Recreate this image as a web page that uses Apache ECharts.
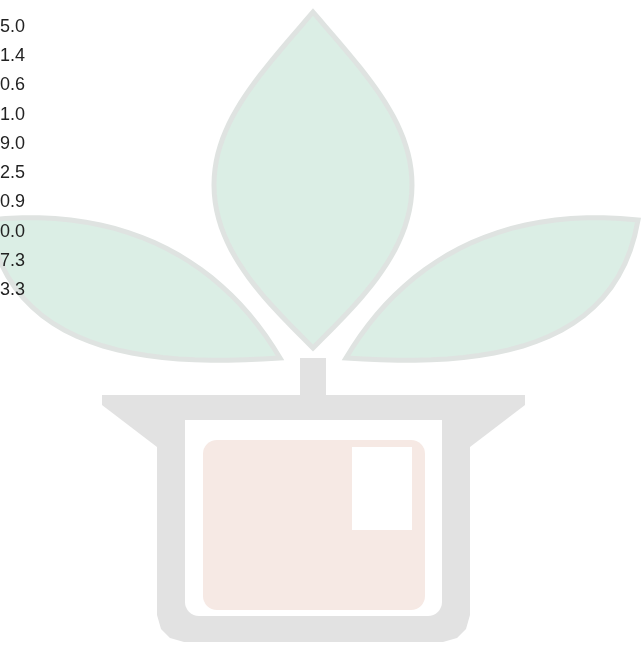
<!DOCTYPE html>
<html>
<head>
<meta charset="utf-8">
<script src="https://cdn.jsdelivr.net/npm/echarts@6/dist/echarts.min.js"></script>
<style>
html,body{margin:0;padding:0;background:#fff;}
#main{width:641px;height:645px;}
</style>
</head>
<body>
<div id="main"></div>
<script>
var categories = ['5.0', '1.4', '0.6', '1.0', '9.0', '2.5', '0.9', '0.0', '7.3', '3.3'];

var chart = echarts.init(document.getElementById('main'), null, {renderer: 'canvas'});

var leafFill = '#dbeee5', leafStroke = '#dfe3e1', potGrey = '#e2e2e2', peach = '#f6e9e4';

// sample a chain of cubic bezier segments [[p0,c1,c2,p3], ...] into polygon points
function bez(segs) {
  var pts = [];
  segs.forEach(function (s) {
    for (var i = 0; i < 24; i++) {
      var t = i / 24, u = 1 - t;
      var x = u*u*u*s[0][0] + 3*u*u*t*s[1][0] + 3*u*t*t*s[2][0] + t*t*t*s[3][0];
      var y = u*u*u*s[0][1] + 3*u*u*t*s[1][1] + 3*u*t*t*s[2][1] + t*t*t*s[3][1];
      pts.push([x, y]);
    }
  });
  return pts;
}

var centerLeaf = bez([
  [[313,12],[362,70],[412,120],[412,185]],
  [[412,185],[412,255],[352,308],[313,348]],
  [[313,348],[274,308],[214,255],[214,185]],
  [[214,185],[214,120],[264,70],[313,12]]
]);
var leftLeaf = bez([
  [[-12,220],[130,205],[225,265],[280,358]],
  [[280,358],[140,368],[10,350],[-12,220]]
]);
var rightLeaf = bez([
  [[638,220],[496,205],[401,265],[346,358]],
  [[346,358],[486,368],[616,350],[638,220]]
]);
var potOuter = [[102,395],[525,395],[525,405],[470,447],[470,615],[466,629],[457,638],[443,642],[184,642],[170,638],[161,629],[157,615],[157,447],[102,405]];

var option = {
  backgroundColor: '#ffffff',
  animation: false,
  grid: {left: 25, top: 12, width: 400, height: 293, containLabel: false, outerBoundsMode: 'none'},
  xAxis: {type: 'value', show: false, min: 0, max: 10},
  yAxis: {
    type: 'category',
    data: categories,
    inverse: true,
    axisLine: {show: false},
    axisTick: {show: false},
    splitLine: {show: false},
    axisLabel: {show: true, color: '#222', fontSize: 18, fontFamily: 'Liberation Sans, Arial, sans-serif', margin: 0, align: 'right'}
  },
  series: [],
  graphic: [
    {type: 'polygon', z: -10, shape: {points: centerLeaf}, style: {fill: leafFill, stroke: leafStroke, lineWidth: 5}},
    {type: 'polygon', z: -10, shape: {points: leftLeaf}, style: {fill: leafFill, stroke: leafStroke, lineWidth: 5}},
    {type: 'polygon', z: -10, shape: {points: rightLeaf}, style: {fill: leafFill, stroke: leafStroke, lineWidth: 5}},
    {type: 'rect', z: -10, shape: {x: 300, y: 358, width: 26, height: 40}, style: {fill: potGrey}},
    {type: 'polygon', z: -10, shape: {points: potOuter}, style: {fill: potGrey}},
    {type: 'rect', z: -9, shape: {x: 185, y: 420, width: 257, height: 196, r: [0, 0, 14, 14]}, style: {fill: '#ffffff'}},
    {type: 'rect', z: -8, shape: {x: 203, y: 440, width: 222, height: 170, r: 14}, style: {fill: peach}},
    {type: 'rect', z: -7, shape: {x: 352, y: 447, width: 60, height: 83}, style: {fill: '#ffffff'}}
  ]
};
chart.setOption(option);
</script>
</body>
</html>
